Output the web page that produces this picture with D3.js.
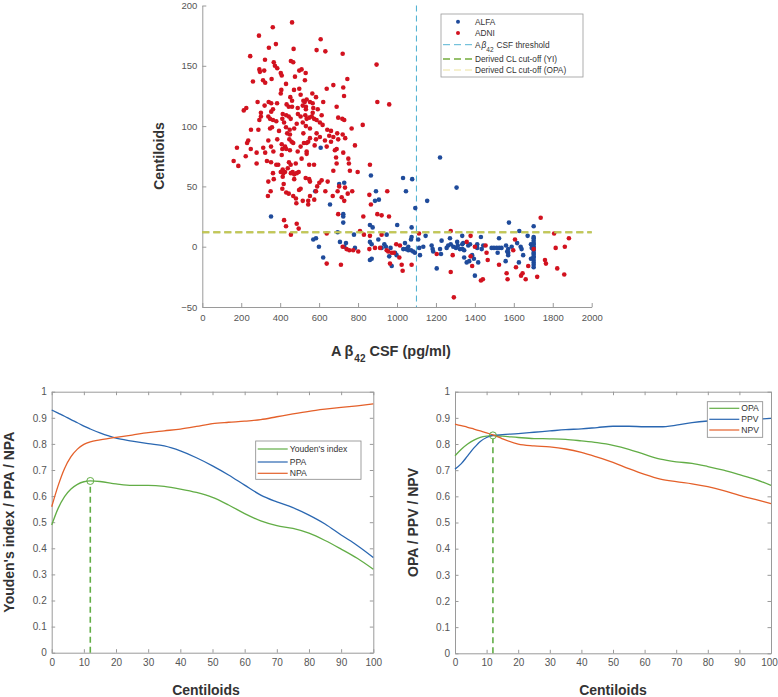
<!DOCTYPE html>
<html><head><meta charset="utf-8">
<script src="https://cdn.jsdelivr.net/npm/d3@7"></script>
<style>
body{margin:0;background:#fff;}
svg{display:block;}
.tick text{fill:#555;}
</style></head>
<body>
<svg id="c" width="778" height="697"></svg>
<script>
// ---------- DATA ----------
// Scatter: [Aβ42 CSF (pg/ml), Centiloids]
const alfa = [[353,25],[608,82],[703,52],[729,53],[580,46],[866,59],[892,46],[887,38],[907,39],[1031,57],[1078,56],[1046,46],[1094,32],[656,35],[724,27],[724,25],[724,20],[861,18],[875,16],[1001,18],[1075,16],[695,12],[570,6],[584,7],[707,4],[738,3],[599,0],[729,0],[784,-1],[779,10],[861,4],[870,2],[904,6],[935,2],[943,0],[947,10],[921,-1],[967,-1],[990,-5],[998,-7],[1041,3],[1058,0],[1032,-2],[1046,-2],[1058,-3],[1072,-3],[1083,-4],[1092,-5],[1072,6],[1109,6],[1114,-1],[1118,-7],[1135,0],[960,-8],[973,-16],[861,-11],[870,-10],[621,-9],[1075,8],
[1221,74],[1306,49],[1155,38],[1575,20],[1147,9],[1229,5],[1272,7],[1335,9],[1309,4],[1431,8],[1524,7],[1178,1],[1183,-2],[1186,-4],[1221,-2],[1255,-1],[1263,1],[1276,2],[1289,0],[1303,-1],[1312,1],[1323,-2],[1337,-2],[1345,-3],[1335,2],[1340,3],[1366,1],[1375,2],[1412,2],[1412,-1],[1443,1],[1435,-2],[1486,-1],[1498,-1],[1512,-1],[1525,-1],[1537,-1],[1560,1],[1566,-4],[1571,-5],[1226,-6],[1345,-9],[1386,-7],[1395,-10],[1358,-13],[1371,-12],[1417,-13],[1517,-5],[1558,-12],[1204,-18],[1400,-24],
[1702,17],[1628,13],[1671,9],[1571,-2],[1589,0],[1571,-7],[1635,0],[1640,-2],[1617,3],[1648,-7],[1626,-13],[1688,2],[1692,-1],[1688,-10],
[1702,8],[1702,7],[1702,5],[1702,3],[1702,2],[1702,0],[1702,-1],[1702,-3],[1702,-5],[1702,-6],[1702,-8],[1702,-9],[1702,-11],[1702,-13],[1702,-15],[1702,-17]];

const adni = [[362,182],[461,186],[291,175],[378,168],[342,165],[469,164],[246,158],[322,155],[455,154],[467,153],[367,153],[373,150],[385,148],[293,147],[296,145],[318,146],[498,146],[403,144],[408,142],[476,141],[356,139],[312,138],[323,136],[260,137],[430,135],[406,130],[403,127],[471,130],[498,131],[452,124],[461,121],[284,120],[341,120],[354,119],[384,119],[320,117],[433,118],[444,116],[461,116],[490,115],[226,115],[213,113],[301,111],[301,108],[363,114],[354,112],[413,110],[411,106],[431,109],[444,108],[454,106],[491,110],[339,108],[348,106],[363,105],[293,105],[380,104],[420,103],
[250,97],[288,97],[348,98],[358,99],[394,96],[430,99],[436,94],[450,93],[449,97],[485,102],[472,98],[236,88],[230,86],[339,88],[385,89],[408,85],[411,81],[447,89],[459,87],[467,86],[178,82],[249,81],[313,82],[353,83],[365,79],[425,83],[431,81],[450,80],[279,78],[323,78],[408,76],[223,75],[490,79],[161,71],[185,67],[279,69],[332,71],[353,70],[380,68],[390,68],[445,70],[454,68],[480,69],[363,61],[403,62],[413,64],[416,61],[425,62],[439,65],[464,62],[472,60],[485,61],[495,62],[455,61],[339,54],[367,56],[413,58],[418,52],[472,56],[411,48],[351,46],[431,45],[444,44],[467,42],[481,40],[497,47],[337,42],[483,36],[420,22],[430,17],[485,19],[495,15],[455,10],
[608,172],[587,163],[632,162],[721,160],[895,151],[510,147],[531,144],[527,138],[745,139],[673,134],[639,131],[724,132],[728,125],[505,126],[565,127],[584,124],[519,121],[526,120],[536,122],[553,120],[567,119],[899,120],[960,118],[621,120],[516,117],[532,116],[570,115],[567,111],[690,116],[532,114],[529,109],[593,114],[613,109],[505,108],[698,107],[719,106],[729,105],[536,106],[549,107],[562,108],[574,106],[587,105],[516,103],[532,100],[604,103],[618,101],[824,101],[767,98],[553,98],[642,97],[661,96],[519,94],[587,94],[604,91],[693,94],[721,93],[652,92],[673,91],[734,90],[698,89],[553,90],[584,89],[522,86],[536,86],[544,87],[630,88],[661,87],[784,84],[505,83],[577,84],[639,83],[690,81],[681,80],[536,79],[724,78],[510,73],[536,77],[687,74],[750,73],[549,68],[574,68],[690,69],[753,69],[861,68],[673,63],[758,63],[798,62],[531,57],[549,56],[553,54],[613,55],[601,53],[644,54],[590,50],[584,46],[505,48],[703,50],[733,49],[695,46],[632,46],[770,46],[747,44],[950,46],[670,42],[858,43],[553,42],[516,38],[544,38],[575,39],[716,41],[729,38],[544,35],[866,35],[698,27],[899,27],[921,26],[959,25],[827,25],[810,13],[830,10],[861,9],[639,11],[921,10],[721,0],[741,-2],[755,-3],[775,-3],[801,-4],[858,-2],[887,-1],[913,-1],[947,-3],[955,-4],[973,-5],[984,-5],[996,2],[1015,1],[1012,-9],[964,-14],[1024,-15],[1029,-20],[1075,-15],[639,-14],[712,-15],[1113,11],
[1276,13],[1378,9],[1358,4],[1455,1],[1400,0],[1204,-6],[1286,-7],[1378,-8],[1460,-5],[1466,-11],[1386,-16],[1524,-15],[1276,-21],[1431,-28],[1441,-27],[1563,-22],[1292,-42],[1568,-27],
[1738,24],[1807,11],[1883,7],[1606,6],[1702,-2],[1815,-1],[1862,0],[1597,-3],[1760,-11],[1765,-14],[1611,-17],[1674,-16],[1823,-18],[1637,-24],[1645,-22],[1720,-25],[1661,-27],[1859,-23]];

const csfThreshold = 1100;
const clCutoffYI = 12;
const clCutoffOPA = 12;

const scatterXTicks = [0,200,400,600,800,1000,1200,1400,1600,1800,2000];
const scatterYTicks = [-50,0,50,100,150,200];
const scatterLegend = ["ALFA","ADNI","CSF threshold","Derived CL cut-off (YI)","Derived CL cut-off (OPA)"];

// Curves vs Centiloids
const centiloids = [0,2,4,6,8,10,12,15,20,25,30,35,40,45,50,55,60,65,70,75,80,85,90,95,100];
const youden = [0.489,0.553,0.598,0.627,0.645,0.655,0.658,0.656,0.647,0.641,0.641,0.637,0.627,0.614,0.595,0.566,0.533,0.505,0.487,0.476,0.458,0.430,0.397,0.362,0.320];
const ppa    = [0.930,0.918,0.906,0.893,0.881,0.868,0.857,0.842,0.822,0.811,0.801,0.792,0.773,0.747,0.716,0.681,0.642,0.604,0.578,0.556,0.527,0.493,0.451,0.411,0.365];
const npa    = [0.559,0.640,0.706,0.751,0.780,0.798,0.808,0.815,0.825,0.834,0.843,0.850,0.857,0.867,0.878,0.883,0.887,0.893,0.904,0.915,0.925,0.933,0.940,0.946,0.953];
const opa    = [0.755,0.780,0.800,0.815,0.825,0.830,0.832,0.830,0.825,0.821,0.820,0.818,0.812,0.805,0.795,0.780,0.760,0.742,0.732,0.726,0.714,0.700,0.683,0.665,0.642];
const ppv    = [0.704,0.725,0.755,0.785,0.810,0.825,0.833,0.836,0.840,0.845,0.850,0.855,0.858,0.863,0.868,0.868,0.866,0.866,0.872,0.882,0.888,0.891,0.892,0.895,0.898];
const npv    = [0.876,0.870,0.864,0.857,0.850,0.843,0.835,0.820,0.800,0.793,0.789,0.781,0.768,0.750,0.730,0.706,0.684,0.666,0.656,0.648,0.637,0.622,0.604,0.588,0.572];
const youdenMax = 0.658;
const opaAtCut = 0.833;
const clTicks = [0,10,20,30,40,50,60,70,80,90,100];
const probTicks = [0,0.1,0.2,0.3,0.4,0.5,0.6,0.7,0.8,0.9,1];

// ---------- STYLE ----------
const C = {blue:"#1f4b9b", red:"#d2121f", thr:"#56b4d3", yi:"#74ac3c", opa:"#e3cf5c",
  lgreen:"#62ad46", lblue:"#2a67b1", lorange:"#e4602a", axis:"#9a9a9a"};
const tickFont = "'Liberation Sans', Arial, sans-serif";
const titleFont = "'Liberation Sans', Arial, Helvetica, sans-serif";

const svg = d3.select("#c");

function styleAxis(g, fs){
  g.select(".domain").attr("stroke", C.axis);
  g.selectAll(".tick line").attr("stroke", C.axis);
  g.selectAll(".tick text").attr("font-family", tickFont).attr("font-size", fs).attr("fill","#555");
}

// ---------- TOP SCATTER ----------
const sx = d3.scaleLinear().domain([0,2000]).range([202.3,591.7]);
const sy = d3.scaleLinear().domain([-50,200]).range([307,5.5]);

const topG = svg.append("g");
topG.append("g").attr("transform",`translate(0,${sy(-50)})`)
  .call(d3.axisBottom(sx).tickValues(scatterXTicks).tickSizeInner(-4).tickSizeOuter(0).tickPadding(7).tickFormat(d3.format("d")))
  .call(g=>styleAxis(g,9.5));
topG.append("g").attr("transform",`translate(${sx(0)},0)`)
  .call(d3.axisLeft(sy).tickValues(scatterYTicks).tickSizeInner(-4).tickSizeOuter(0).tickPadding(5).tickFormat(d3.format("d")))
  .call(g=>styleAxis(g,9.5));

// threshold line
topG.append("line").attr("x1",sx(csfThreshold)).attr("x2",sx(csfThreshold)).attr("y1",sy(200)).attr("y2",sy(-50))
  .attr("stroke",C.thr).attr("stroke-width",1.1).attr("stroke-dasharray","6,4");

topG.append("g").selectAll("circle").data(alfa).join("circle")
  .attr("cx",d=>sx(d[0])).attr("cy",d=>sy(d[1])).attr("r",2.3).attr("fill",C.blue);
topG.append("g").selectAll("circle").data(adni).join("circle")
  .attr("cx",d=>sx(d[0])).attr("cy",d=>sy(d[1])).attr("r",2.3).attr("fill",C.red);

// cut-off lines
topG.append("line").attr("x1",sx(0)).attr("x2",sx(2000)).attr("y1",sy(clCutoffYI)).attr("y2",sy(clCutoffYI))
  .attr("stroke",C.yi).attr("stroke-width",2).attr("stroke-dasharray","7,4");
topG.append("line").attr("x1",sx(0)).attr("x2",sx(2000)).attr("y1",sy(clCutoffOPA)).attr("y2",sy(clCutoffOPA))
  .attr("stroke",C.opa).attr("stroke-width",2).attr("stroke-dasharray","7,4").attr("opacity",0.75);

// axis titles
topG.append("text").attr("transform","translate(164,156) rotate(-90)").attr("text-anchor","middle")
  .attr("font-family",titleFont).attr("font-weight","bold").attr("font-size",14).attr("fill","#333").text("Centiloids");
const xt = topG.append("text").attr("x",331).attr("y",356).attr("text-anchor","start")
  .attr("font-family",titleFont).attr("font-weight","bold").attr("font-size",14.5).attr("fill","#333");
xt.append("tspan").text("A");
xt.append("tspan").attr("dx",3).text("\u03b2");
xt.append("tspan").attr("font-size",10).attr("dy",6).attr("dx",1).text("42");
xt.append("tspan").attr("dy",-6).attr("dx",4).text("CSF (pg/ml)");

// legend
const lg = topG.append("g").attr("transform","translate(441,14)");
lg.append("rect").attr("width",142).attr("height",63).attr("fill","#fff").attr("stroke","#999").attr("stroke-width",0.8);
const lgy = [7.7,19,30.7,45,56];
const lgFs = 8.3;
lg.append("circle").attr("cx",17).attr("cy",lgy[0]).attr("r",2).attr("fill",C.blue);
lg.append("circle").attr("cx",17).attr("cy",lgy[1]).attr("r",2).attr("fill",C.red);
[[C.thr,lgy[2],1],[C.yi,lgy[3],1.3],[C.opa,lgy[4],1]].forEach(([c,y,w])=>{
  lg.append("line").attr("x1",2).attr("x2",33).attr("y1",y).attr("y2",y).attr("stroke",c).attr("stroke-width",w).attr("stroke-dasharray","7,4").attr("opacity",c===C.opa?0.6:1);
});
function lgText(y,t){return lg.append("text").attr("x",34).attr("y",y+3).attr("font-family",tickFont).attr("font-size",lgFs).attr("fill","#333").text(t);}
lgText(lgy[0],scatterLegend[0]);
lgText(lgy[1],scatterLegend[1]);
const t3 = lg.append("text").attr("x",34).attr("y",lgy[2]+3).attr("font-family",tickFont).attr("font-size",lgFs).attr("fill","#333");
t3.append("tspan").text("A");
t3.append("tspan").attr("font-style","italic").attr("dx",1).text("\u03b2");
t3.append("tspan").attr("dy",4).attr("font-size",6.5).text("42");
t3.append("tspan").attr("dy",-4).attr("dx",3).text(scatterLegend[2]);
lgText(lgy[3],scatterLegend[3]);
lgText(lgy[4],scatterLegend[4]);

// ---------- BOTTOM PANELS ----------
function panel(x0,x1,y0,y1,series,cutY,ytitle,ytitleX,xtitleX,legendBox){
  const x = d3.scaleLinear().domain([0,100]).range([x0,x1]);
  const y = d3.scaleLinear().domain([0,1]).range([y1,y0]);
  const g = svg.append("g");
  g.append("g").attr("transform",`translate(0,${y1})`)
    .call(d3.axisBottom(x).tickValues(clTicks).tickSizeInner(-3.5).tickSizeOuter(0).tickPadding(6))
    .call(a=>styleAxis(a,10))
    .call(a=>a.selectAll(".tick text").filter(d=>d===100).attr("dx", x1>700 ? -2 : 0));
  g.append("g").attr("transform",`translate(${x0},0)`)
    .call(d3.axisLeft(y).tickValues(probTicks).tickSizeInner(-3.5).tickSizeOuter(0).tickPadding(5).tickFormat(d=>d===0||d===1?d3.format("d")(d):d3.format(".1f")(d)))
    .call(a=>styleAxis(a,10));
  g.append("g").attr("transform",`translate(0,${y0})`)
    .call(d3.axisTop(x).tickValues(clTicks).tickSizeInner(-3.5).tickSizeOuter(0).tickFormat(""))
    .call(a=>styleAxis(a,10));
  g.append("g").attr("transform",`translate(${x1},0)`)
    .call(d3.axisRight(y).tickValues(probTicks).tickSizeInner(-3.5).tickSizeOuter(0).tickFormat(""))
    .call(a=>styleAxis(a,10));
  const line = d3.line().x((d,i)=>x(centiloids[i])).y(d=>y(d)).curve(d3.curveMonotoneX);
  series.forEach(s=>{
    g.append("path").attr("d",line(s.values)).attr("fill","none").attr("stroke",s.color).attr("stroke-width",1.3);
  });
  // cut-off
  g.append("line").attr("x1",x(clCutoffYI)).attr("x2",x(clCutoffYI)).attr("y1",y(0)).attr("y2",y(cutY)+3.5)
    .attr("stroke",C.lgreen).attr("stroke-width",1.6).attr("stroke-dasharray","6,4");
  g.append("circle").attr("cx",x(clCutoffYI)).attr("cy",y(cutY)).attr("r",3.5).attr("fill","none").attr("stroke",C.lgreen).attr("stroke-width",1);
  // titles
  g.append("text").attr("transform",`translate(${ytitleX},${(y0+y1)/2}) rotate(-90)`).attr("text-anchor","middle")
    .attr("font-family",titleFont).attr("font-weight","bold").attr("font-size",14).attr("fill","#333").text(ytitle);
  g.append("text").attr("x",xtitleX).attr("y",695).attr("text-anchor","middle")
    .attr("font-family",titleFont).attr("font-weight","bold").attr("font-size",14).attr("fill","#333").text("Centiloids");
  // legend
  const [lx,ly,lw,lh,rows] = legendBox;
  const l = g.append("g").attr("transform",`translate(${lx},${ly})`);
  l.append("rect").attr("width",lw).attr("height",lh).attr("fill","#fff").attr("stroke","#888").attr("stroke-width",0.8);
  series.forEach((s,i)=>{
    l.append("line").attr("x1",2).attr("x2",32).attr("y1",rows[i]).attr("y2",rows[i]).attr("stroke",s.color).attr("stroke-width",1.2);
    l.append("text").attr("x",34).attr("y",rows[i]+3).attr("font-family",tickFont).attr("font-size",8.6).attr("fill","#333").text(s.name);
  });
}

panel(51.7,373.3,391.7,652.7,
  [{name:"Youden's index",values:youden,color:C.lgreen},{name:"PPA",values:ppa,color:C.lblue},{name:"NPA",values:npa,color:C.lorange}],
  youdenMax,"Youden's index / PPA / NPA",14,206,[255.7,441,105.3,38.3,[8,21,32.3]]);
panel(455,771,391.7,653.3,
  [{name:"OPA",values:opa,color:C.lgreen},{name:"PPV",values:ppv,color:C.lblue},{name:"NPV",values:npv,color:C.lorange}],
  opaAtCut,"OPA / PPV / NPV",418,613,[707.3,401.7,55.4,35.6,[6.6,17.6,28.3]]);
</script>
</body></html>
